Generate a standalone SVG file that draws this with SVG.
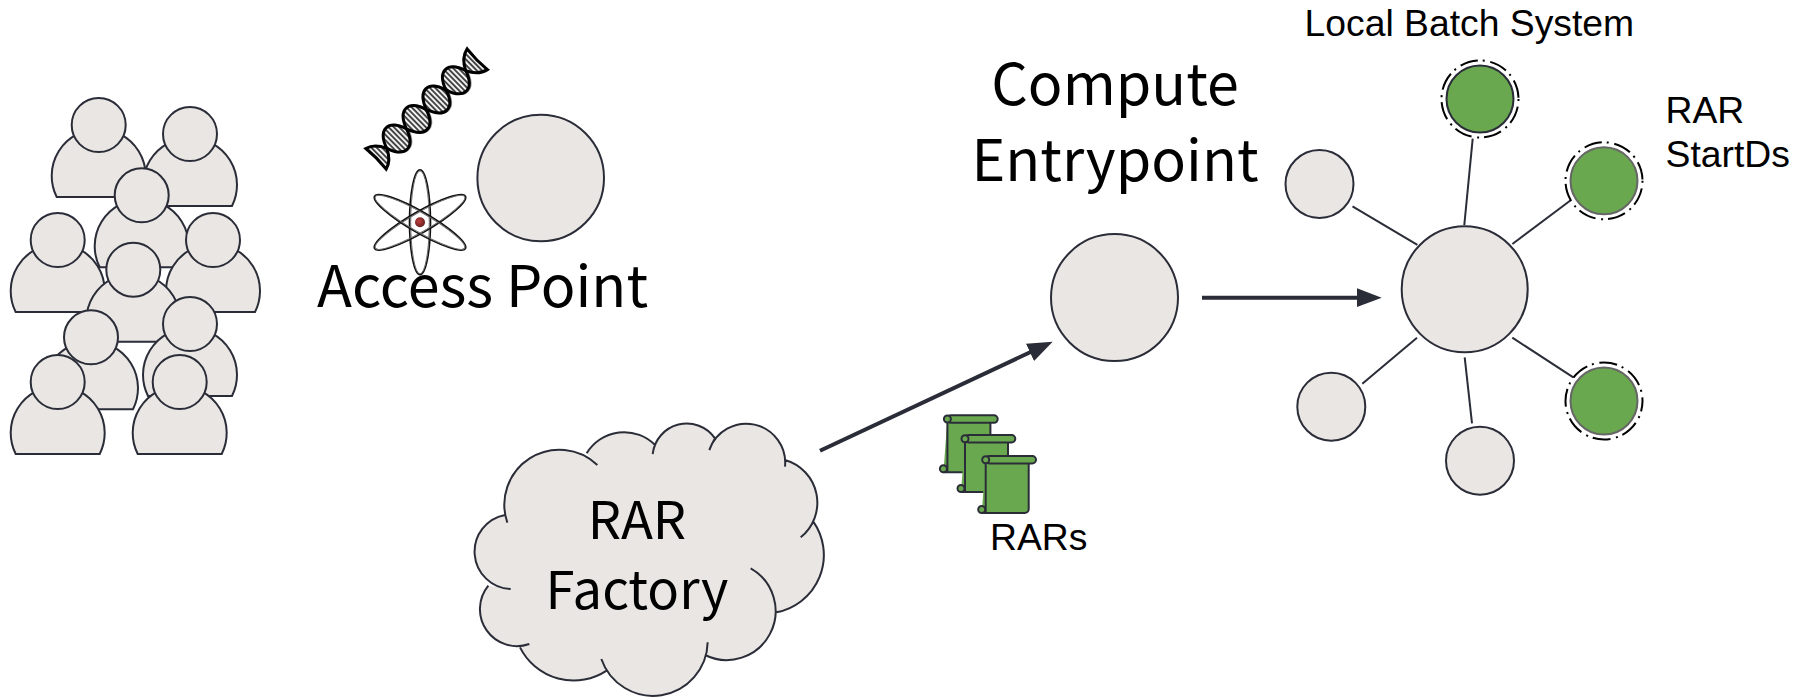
<svg xmlns="http://www.w3.org/2000/svg" xmlns:xlink="http://www.w3.org/1999/xlink" width="1798" height="698" viewBox="0 0 1798 698">
<style>
.n{fill:#e9e6e3;stroke:#2a2d38;stroke-width:2}
.g{fill:#6aa84f;stroke:#666;stroke-width:2}
.ring{fill:none;stroke:#000;stroke-width:2;stroke-dasharray:2 5.65 18 5}
.l{stroke:#2a2d38;stroke-width:2;fill:none}
.a{stroke:#2a2d38;stroke-width:4;fill:none;marker-end:url(#ah)}
.s{font-family:"Liberation Sans",Arial,sans-serif;font-size:37.3px;fill:#000}
.t{font-family:"Noto Sans CJK SC","Noto Sans",sans-serif;font-size:57.4px;fill:#000;text-anchor:middle}
.f{font-size:52.5px}
.sc{fill:#6aa84f;stroke:#2a2d38;stroke-width:2;stroke-linejoin:round}
.lens{fill:url(#hatch);stroke:#000;stroke-width:3}
.lensb{fill:none;stroke:#999;stroke-width:2.400}
.orb{fill:none;stroke:#111;stroke-width:1.600}
.orb2{fill:none;stroke:#666;stroke-width:1}
</style>
<defs>
<marker id="ah" markerUnits="userSpaceOnUse" markerWidth="26" markerHeight="20" refX="13" refY="9.500" orient="auto"><path d="M0,0L25,9.500L0,19Z" fill="#2a2d38"/></marker>
<pattern id="hatch" width="3.800" height="3.800" patternUnits="userSpaceOnUse"><rect width="3.800" height="3.800" fill="#f2f2f2"/><rect width="1.900" height="3.800" fill="#444"/></pattern>
<radialGradient id="nuc" cx=".4" cy=".4" r=".6"><stop offset="0" stop-color="#c04040"/><stop offset="1" stop-color="#6a1f1f"/></radialGradient>
<g id="person"><path class="n" d="M-42,72A47,47 0 1 1 42,72Z"/><circle class="n" r="27"/></g>
<g id="scroll">
<path class="sc" d="M0,0H43V49a4,4 0 0 1-4,4H-4"/>
<path class="sc" d="M0,0V53"/>
<circle class="sc" cx="-4" cy="49.500" r="3.500"/>
<rect class="sc" x="0" y="-4" width="50.300" height="7.500" rx="3.700"/>
<circle class="sc" cx="0" cy="-.3" r="3.500"/>
</g>
</defs>
<g id="connectors">
<line class="l" x1="1472.700" y1="138.700" x2="1464.300" y2="225"/>
<line class="l" x1="1352.500" y1="206.400" x2="1417.400" y2="244.800"/>
<line class="l" x1="1570.700" y1="200.300" x2="1512.400" y2="244"/>
<line class="l" x1="1417" y1="337.700" x2="1362.300" y2="383.700"/>
<line class="l" x1="1464.700" y1="357.300" x2="1472" y2="423.300"/>
<line class="l" x1="1512.300" y1="337.700" x2="1573.300" y2="377.300"/>
<line class="a" x1="1202" y1="297.700" x2="1369.700" y2="297.700"/>
<line class="a" x1="820" y1="450.700" x2="1041.800" y2="346.800"/>
</g>
<g id="users">
<use xlink:href="#person" href="#person" x="98.700" y="125"/>
<use xlink:href="#person" href="#person" x="190" y="134"/>
<use xlink:href="#person" href="#person" x="141.700" y="195.300"/>
<use xlink:href="#person" href="#person" x="57.700" y="240"/>
<use xlink:href="#person" href="#person" x="213" y="240"/>
<use xlink:href="#person" href="#person" x="133.300" y="269.700"/>
<use xlink:href="#person" href="#person" x="190" y="324"/>
<use xlink:href="#person" href="#person" x="91" y="337.300"/>
<use xlink:href="#person" href="#person" x="57.700" y="382"/>
<use xlink:href="#person" href="#person" x="179.700" y="382"/>
</g>
<g id="dna" transform="translate(386.700 148.300) rotate(-44.500)">
<g transform="translate(.8 .8)" class="lensb"><path d="M0,0C7,-20 21,-20 27.700,0C21,20 7,20 0,0Z"/><path d="M27.700,0C35,-20 49,-20 55.400,0C49,20 35,20 27.700,0Z"/><path d="M55.400,0C63,-20 77,-20 83.100,0C77,20 63,20 55.400,0Z"/><path d="M83.100,0C90,-20 104,-20 110.800,0C104,20 90,20 83.100,0Z"/></g>
<path class="lens" d="M0,0C7,-20 21,-20 27.700,0C21,20 7,20 0,0Z"/>
<path class="lens" d="M27.700,0C35,-20 49,-20 55.400,0C49,20 35,20 27.700,0Z"/>
<path class="lens" d="M55.400,0C63,-20 77,-20 83.100,0C77,20 63,20 55.400,0Z"/>
<path class="lens" d="M83.100,0C90,-20 104,-20 110.800,0C104,20 90,20 83.100,0Z"/>
<path class="lens" d="M110.800,0C115,-9 120,-13 127,-14.500C126,-6 126,6 127,14.500C120,13 115,9 110.800,0Z" stroke-width="1.800"/>
<path class="lens" d="M0,0C-4,-9 -9,-13 -15,-14.500C-14,-6 -14,6 -15,14.500C-9,13 -4,9 0,0Z" stroke-width="1.800"/>
</g>
<g id="atom">
<ellipse class="orb" cx="420" cy="222.300" rx="10.500" ry="52.500"/>
<ellipse class="orb2" cx="420" cy="222.300" rx="9.300" ry="51.500"/>
<ellipse class="orb" cx="420" cy="222.300" rx="10.500" ry="52.500" transform="rotate(60 420 222.300)"/>
<ellipse class="orb2" cx="420" cy="222.300" rx="9.300" ry="51.500" transform="rotate(60 420 222.300)"/>
<ellipse class="orb" cx="420" cy="222.300" rx="10.500" ry="52.500" transform="rotate(-60 420 222.300)"/>
<ellipse class="orb2" cx="420" cy="222.300" rx="9.300" ry="51.500" transform="rotate(-60 420 222.300)"/>
<circle cx="420" cy="222.300" r="5" fill="url(#nuc)"/>
</g>
<g id="access-point">
<circle class="n" cx="540.700" cy="178" r="63.300"/>
<text class="t" x="482.500" y="307">Access Point</text>
</g>
<g id="compute-entrypoint">
<circle class="n" cx="1114.500" cy="297.600" r="63.500"/>
<text class="t" x="1115" y="105">Compute</text>
<text class="t" x="1115" y="181">Entrypoint</text>
</g>
<g id="rar-factory">
<g transform="translate(460 410) scale(.33333)">
<path d="M142,338A165,165 0 0 1 412,165L380,130A131,131 0 0 1 585,105L578,132A103,103 0 0 1 765,85L748,120A117,117 0 0 1 975,170L975,150A133,133 0 0 1 1022,382L1060,335A175,175 0 0 1 950,607L872,475A147,147 0 0 1 735,735L743,697A164,164 0 0 1 424,747L440,782A180,180 0 0 1 180,712L208,702A111,111 0 0 1 85,527L152,537A112,112 0 0 1 135,315Z" fill="#e9e6e3"/>
<path d="M300,250H800V650H300Z" fill="#e9e6e3"/>
<path d="M142,338A165,165 0 0 1 412,165M380,130A131,131 0 0 1 585,105Q580,118 578,132A103,103 0 0 1 765,85Q755,103 748,120A117,117 0 0 1 975,170M975,150A133,133 0 0 1 1022,382M1060,335A175,175 0 0 1 950,607M872,475A147,147 0 0 1 735,735M743,697A164,164 0 0 1 424,747M440,782A180,180 0 0 1 180,712M208,702A111,111 0 0 1 85,527M152,537A112,112 0 0 1 135,315" fill="none" stroke="#2a2d38" stroke-width="6"/>
</g>
<text class="t f" x="637" y="539">RAR</text>
<text class="t f" x="637" y="609">Factory</text>
</g>
<g id="rars">
<use xlink:href="#scroll" href="#scroll" x="947.400" y="419.300"/>
<use xlink:href="#scroll" href="#scroll" x="965" y="439"/>
<use xlink:href="#scroll" href="#scroll" x="985.700" y="460"/>
<text class="s" x="990" y="550">RARs</text>
</g>
<g id="hub"><circle class="n" cx="1464.700" cy="289.300" r="63"/></g>
<g id="node-tl"><circle class="n" cx="1319.500" cy="184" r="34"/></g>
<g id="node-bl"><circle class="n" cx="1331.300" cy="406.700" r="34"/></g>
<g id="node-b"><circle class="n" cx="1480" cy="460.700" r="34"/></g>
<g id="startd-1"><circle class="g" cx="1480" cy="99" r="33.500" style="stroke:#2a2d38"/><circle class="ring" cx="1480" cy="99" r="38.500"/></g>
<g id="startd-2"><circle class="g" cx="1604" cy="180.800" r="33.500"/><circle class="ring" cx="1604" cy="180.800" r="38.500"/></g>
<g id="startd-3"><circle class="g" cx="1604" cy="401" r="33.500"/><circle class="ring" cx="1604" cy="401" r="38.500" stroke-dashoffset="15.100"/></g>
<g id="labels">
<text class="s" x="1304.500" y="36">Local Batch System</text>
<text class="s" x="1665.500" y="123">RAR</text>
<text class="s" x="1665.500" y="166.700">StartDs</text>
</g>
</svg>
